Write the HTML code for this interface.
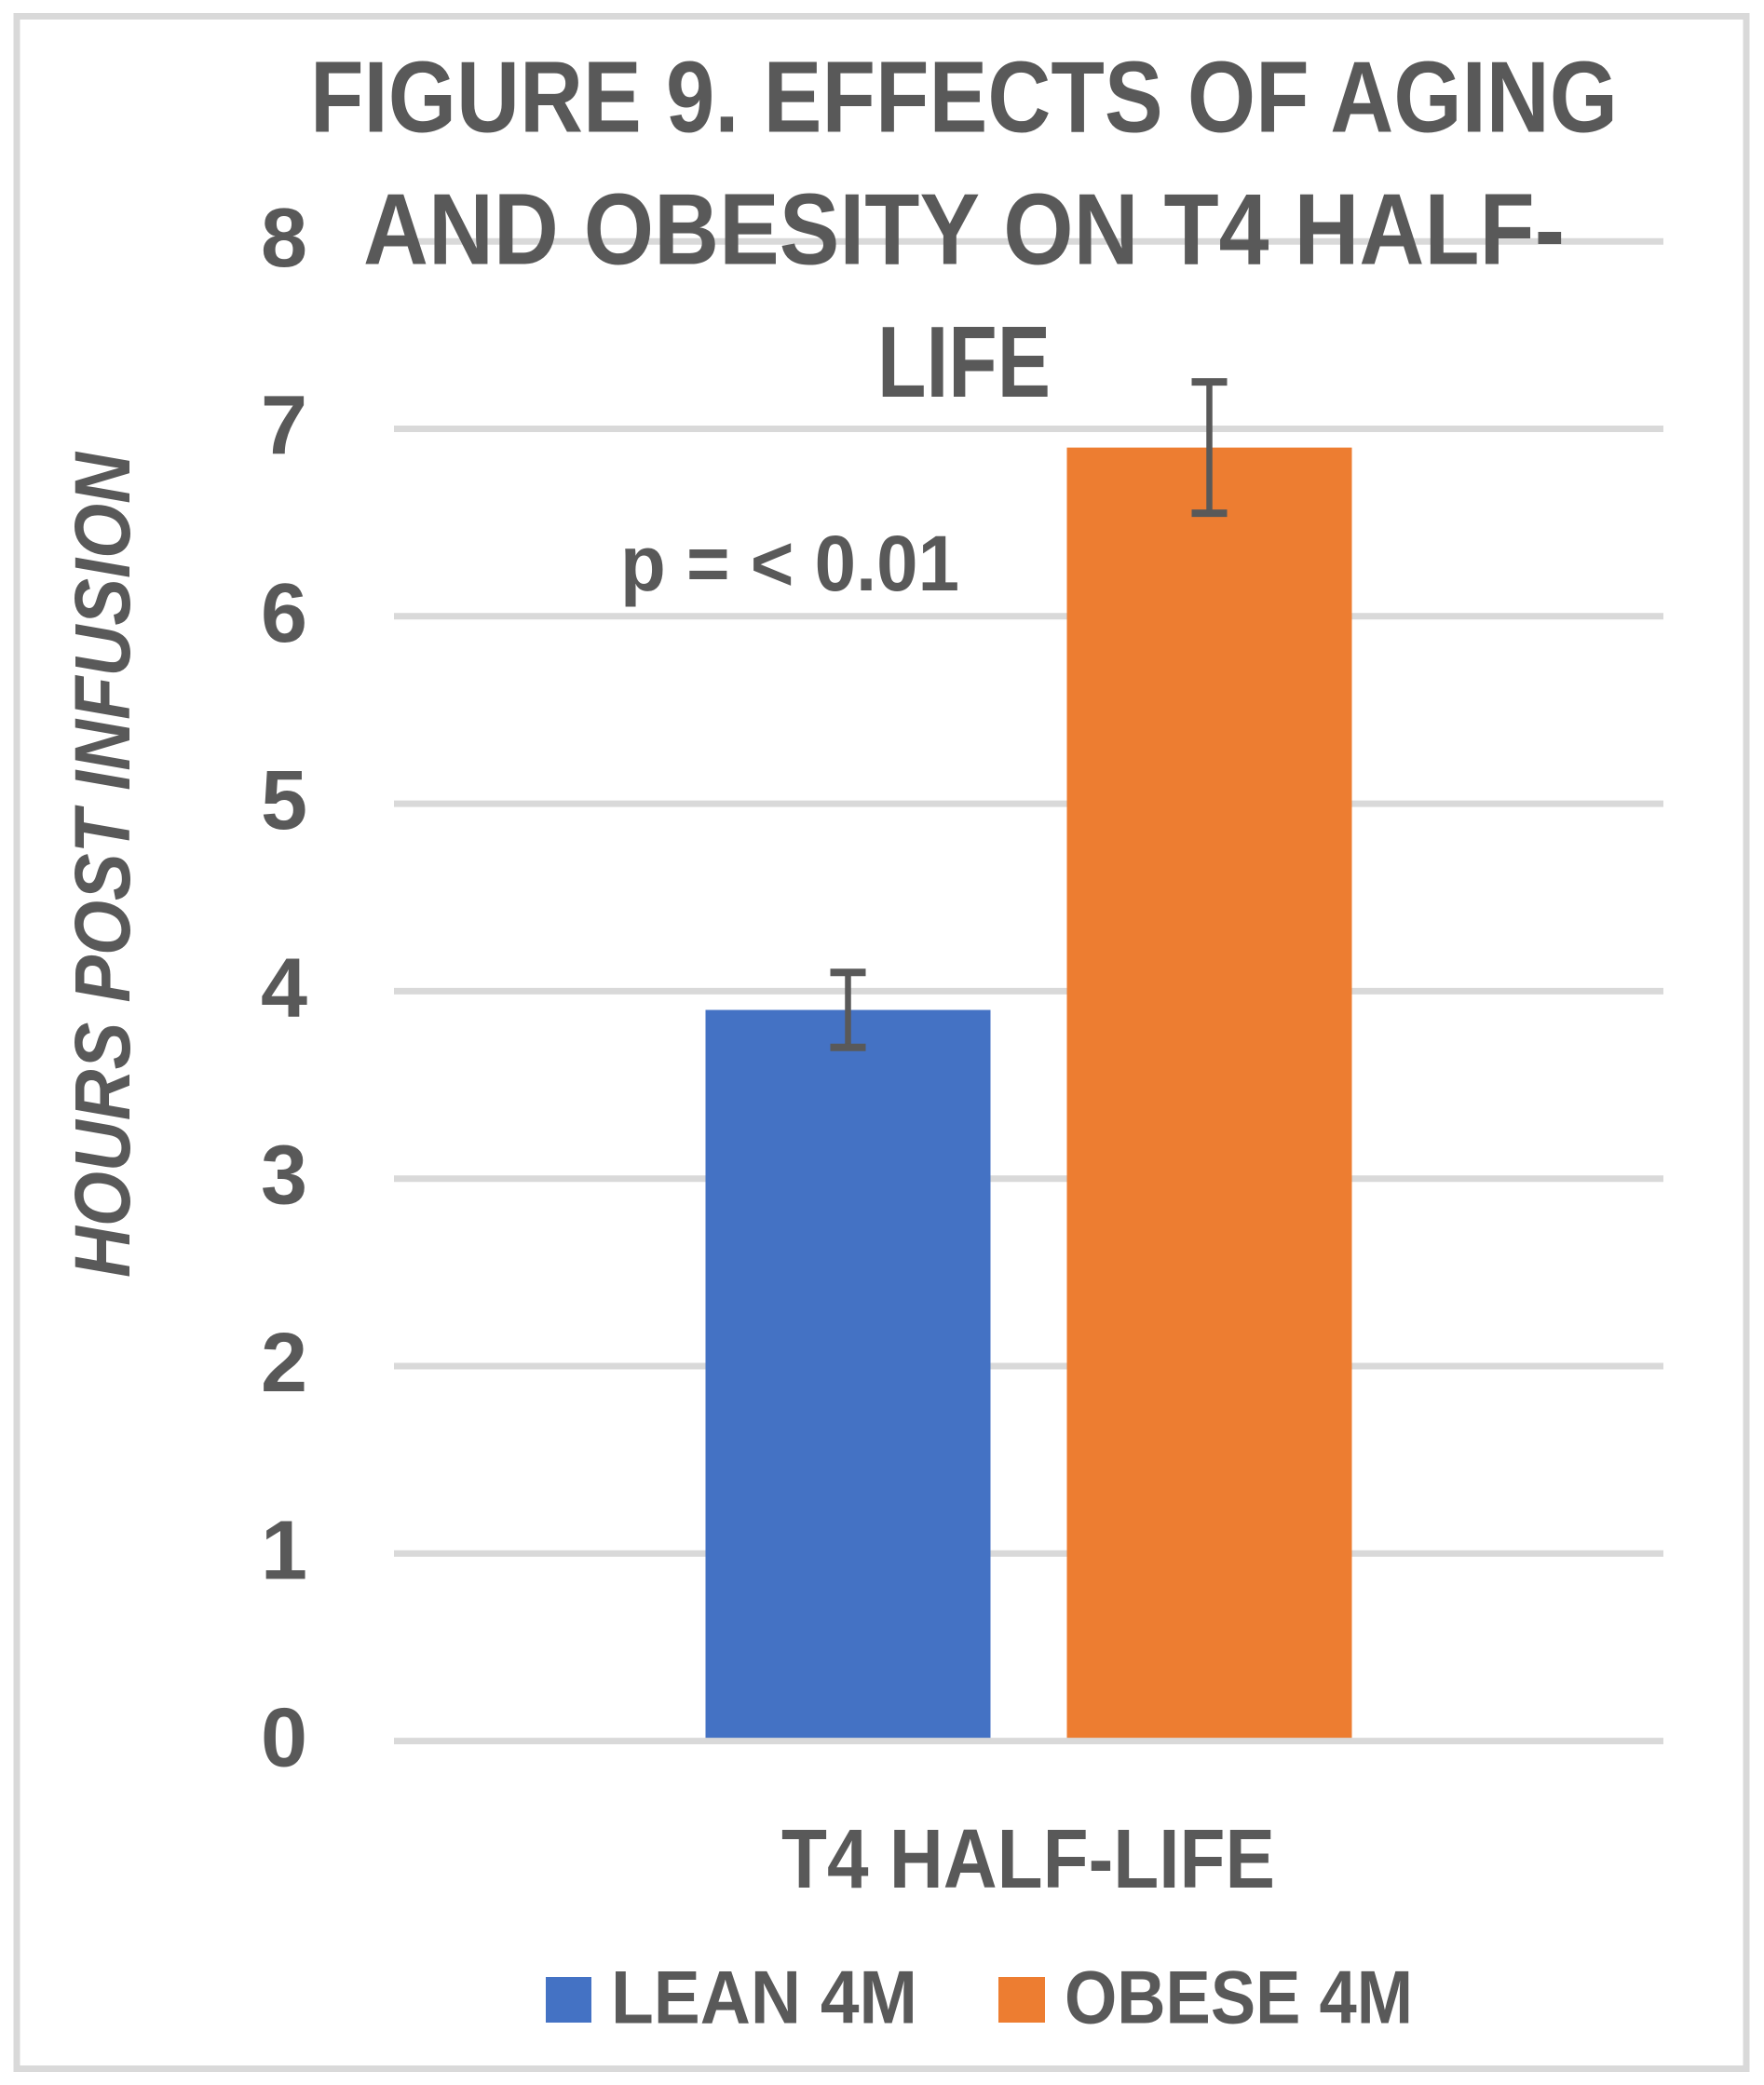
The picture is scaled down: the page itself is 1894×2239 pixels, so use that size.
<!DOCTYPE html>
<html lang="en">
<head>
<meta charset="utf-8">
<title>Figure 9. Effects of aging and obesity on T4 half-life</title>
<style>
  html, body { margin: 0; padding: 0; background: #ffffff; }
  svg { display: block; }
  text { font-family: "Liberation Sans", Arial, sans-serif; font-weight: bold; fill: #595959; }
</style>
</head>
<body>
<svg id="chart" xmlns="http://www.w3.org/2000/svg" width="1894" height="2239" viewBox="0 0 1894 2239">
  <rect x="18" y="17.5" width="1857" height="2204" fill="#ffffff" stroke="#d9d9d9" stroke-width="7"/>
  <g id="gridlines"></g>
  <g id="bars"></g>
  <g id="baseline"></g>
  <g id="error-bars"></g>
  <g id="y-ticks"></g>
  <g>
    <text x="333" y="141.5" font-size="109" textLength="1404" lengthAdjust="spacingAndGlyphs">FIGURE 9. EFFECTS OF AGING</text>
    <text x="390" y="283.5" font-size="109" textLength="1290" lengthAdjust="spacingAndGlyphs">AND OBESITY ON T4 HALF-</text>
    <text x="942" y="426" font-size="109" textLength="186" lengthAdjust="spacingAndGlyphs">LIFE</text>
  </g>
  <text x="666" y="634" font-size="84" textLength="364" lengthAdjust="spacingAndGlyphs">p = &lt; 0.01</text>
  <text transform="translate(139 1372) rotate(-90)" x="0" y="0" font-size="84" font-style="italic" textLength="886" lengthAdjust="spacingAndGlyphs">HOURS POST INFUSION</text>
  <text x="839" y="2027" font-size="90" textLength="530" lengthAdjust="spacingAndGlyphs">T4 HALF-LIFE</text>
  <g>
    <g>
      <rect x="586" y="2123" width="49" height="49" fill="#4472c4"/>
      <text x="656" y="2172.5" font-size="81" textLength="329" lengthAdjust="spacingAndGlyphs">LEAN 4M</text>
    </g>
    <g>
      <rect x="1072" y="2123" width="50" height="49" fill="#ed7d31"/>
      <text x="1143" y="2172.5" font-size="81" textLength="374" lengthAdjust="spacingAndGlyphs">OBESE 4M</text>
    </g>
  </g>
</svg>
<script>
const seriesNames = ['LEAN 4M', 'OBESE 4M'];
const seriesValues = [3.9, 6.9];
const errorLow = [3.7, 6.55];
const errorHigh = [4.1, 7.25];
const seriesColors = ['#4472c4', '#ed7d31'];
const yTickLabels = ['0', '1', '2', '3', '4', '5', '6', '7', '8'];

const NS = 'http://www.w3.org/2000/svg';
const plotLeft = 423;
const plotRight = 1786;
const yZero = 1869.6;
const yUnit = 201.3;
const barWidth = 306;
const barGap = 82;

function yScale(value) {
  return yZero - value * yUnit;
}
function barLeft(index) {
  const center = (plotLeft + plotRight) / 2;
  const total = seriesValues.length * barWidth + (seriesValues.length - 1) * barGap;
  return center - total / 2 + index * (barWidth + barGap);
}
function make(tag, attrs, parent) {
  const el = document.createElementNS(NS, tag);
  Object.keys(attrs).forEach(function (k) { el.setAttribute(k, attrs[k]); });
  parent.appendChild(el);
  return el;
}

const gridGroup = document.getElementById('gridlines');
const tickGroup = document.getElementById('y-ticks');
const baselineGroup = document.getElementById('baseline');
yTickLabels.forEach(function (label) {
  const value = Number(label);
  const y = yScale(value);
  const parent = value === 0 ? baselineGroup : gridGroup;
  const line = make('line', { x1: plotLeft, x2: plotRight, y1: y, y2: y, stroke: '#d9d9d9', 'stroke-width': 7 }, parent);
  
  
  const tick = make('text', { x: 305, y: y + 27, 'font-size': 90, 'text-anchor': 'middle' }, tickGroup);
  
  
  tick.textContent = label;
});

const barGroup = document.getElementById('bars');
const errorGroup = document.getElementById('error-bars');
seriesValues.forEach(function (value, i) {
  const left = barLeft(i);
  const slug = seriesNames[i].toLowerCase().replace(/\s+/g, '-');
  const bar = make('rect', { x: left, y: yScale(value), width: barWidth, height: yScale(0) - yScale(value), fill: seriesColors[i] }, barGroup);
  
  

  const cx = left + barWidth / 2;
  const err = make('g', {}, errorGroup);
  
  
  make('line', { x1: cx, x2: cx, y1: yScale(errorHigh[i]), y2: yScale(errorLow[i]), stroke: '#595959', 'stroke-width': 6.5 }, err);
  make('line', { x1: cx - 19, x2: cx + 19, y1: yScale(errorHigh[i]), y2: yScale(errorHigh[i]), stroke: '#595959', 'stroke-width': 8 }, err);
  make('line', { x1: cx - 19, x2: cx + 19, y1: yScale(errorLow[i]), y2: yScale(errorLow[i]), stroke: '#595959', 'stroke-width': 8 }, err);
});
</script>
</body>
</html>
